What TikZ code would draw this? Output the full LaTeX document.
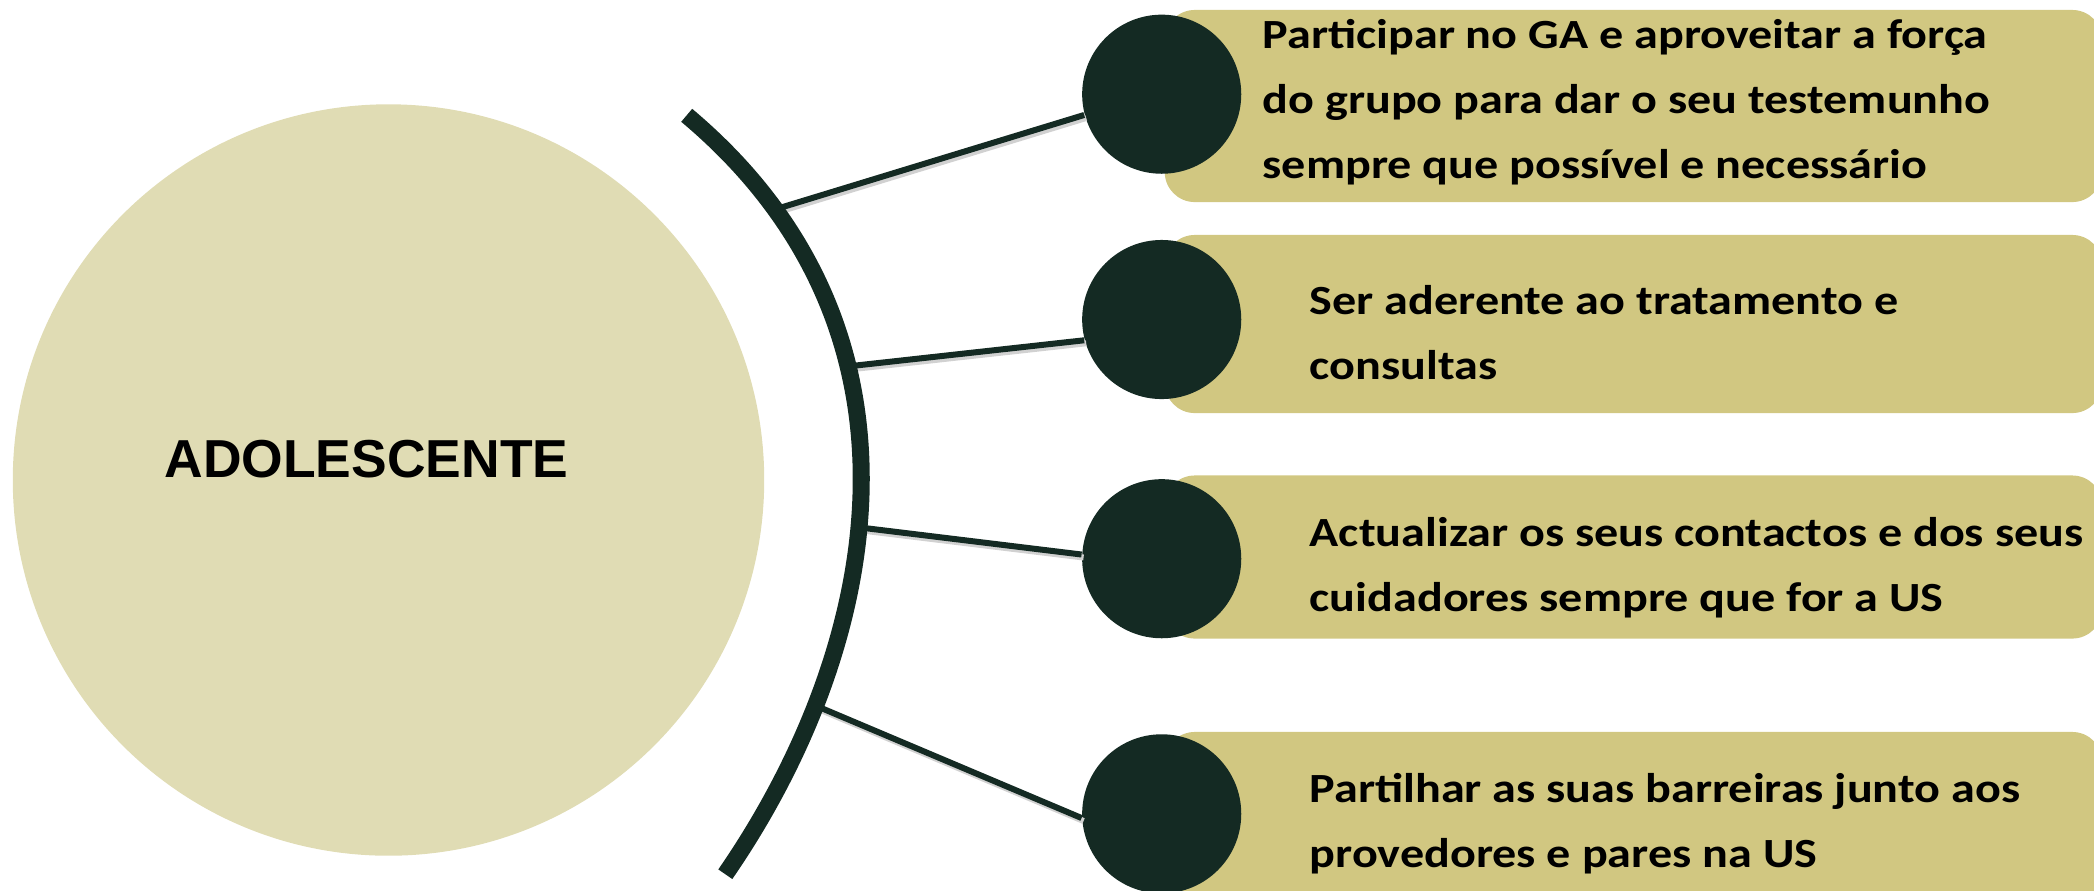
\documentclass[tikz,border=0pt]{standalone}
\usepackage{fontspec}
\setmainfont{Carlito}[FakeStretch=1.16]
\newfontfamily\arialfont{Liberation Sans}
\usetikzlibrary{positioning}

\definecolor{darkpine}{HTML}{142A23}
\definecolor{paleolive}{HTML}{E0DCB4}
\definecolor{olivegold}{HTML}{D1C781}

\begin{document}
\begin{tikzpicture}[x=0.01cm,y=-0.01cm,
	hub/.style={circle,fill=paleolive,minimum size=7.51cm,inner sep=0pt},
	dot/.style={circle,fill=darkpine,minimum size=1.59cm,inner sep=0pt},
	bar/.style={rectangle,rounded corners=0.3cm,fill=olivegold,minimum width=9.37cm,inner sep=0pt},
	item/.style={anchor=west,align=left,inner sep=0pt,font=\fontsize{11.8}{18.5}\selectfont\bfseries},
	spoke/.style={draw=darkpine,line width=0.06cm},
	spokeshadow/.style={draw=black!18,line width=0.06cm},
	rim/.style={draw=darkpine,line width=0.17cm}]
\useasboundingbox (0,0) rectangle (2094,890);
\clip (0,0) rectangle (2094,890);

\node[hub] (hub) at (388.5,480) {};
\node[font=\fontsize{15.2}{18}\selectfont\arialfont\bfseries] (name) at (366.5,459) {ADOLESCENTE};

% bars behind the dots
\node[bar,minimum height=1.92cm] (b1) at (1633.5,106) {};
\node[bar,minimum height=1.78cm] (b2) at (1633.5,324) {};
\node[bar,minimum height=1.63cm] (b3) at (1633.5,557) {};
\node[bar,minimum height=1.80cm] (b4) at (1633.5,822) {};

\node[dot] (c1) at (1161.7,94.2) {};
\node[dot] (c2) at (1161.7,319.5) {};
\node[dot] (c3) at (1161.7,558.7) {};
\node[dot] (c4) at (1161.7,813.8) {};

% the curved rim and the points on it
\coordinate (top) at (686.7,115.3);
\coordinate (bot) at (725.3,874.2);
\path (top) .. controls (948.7,335.2) and (876.6,655) .. (bot)
	coordinate[pos=0.135] (a1) coordinate[pos=0.34] (a2)
	coordinate[pos=0.54] (a3) coordinate[pos=0.765] (a4);

\foreach \i/\ang in {1/195,2/195,3/177,4/183}
	\draw[spokeshadow] ([shift={(2,3)}]a\i) -- ([shift={(2,3)}]c\i.\ang);
\foreach \i/\ang in {1/195,2/195,3/177,4/183}
	\draw[spoke] (a\i) -- (c\i.\ang);

\draw[rim] (top) .. controls (948.7,335.2) and (876.6,655) .. (bot);

\node[item] (t1) at (1262,102) {Participar no GA e aproveitar a força\\do grupo para dar o seu testemunho\\sempre que possível e necessário};
\node[item] (t2) at (1309,333) {Ser aderente ao tratamento e\\consultas};
\node[item] (t3) at (1309,568) {Actualizar os seus contactos e dos seus\\cuidadores sempre que for a US};
\node[item] (t4) at (1309,824) {Partilhar as suas barreiras junto aos\\provedores e pares na US};
\end{tikzpicture}
\end{document}
